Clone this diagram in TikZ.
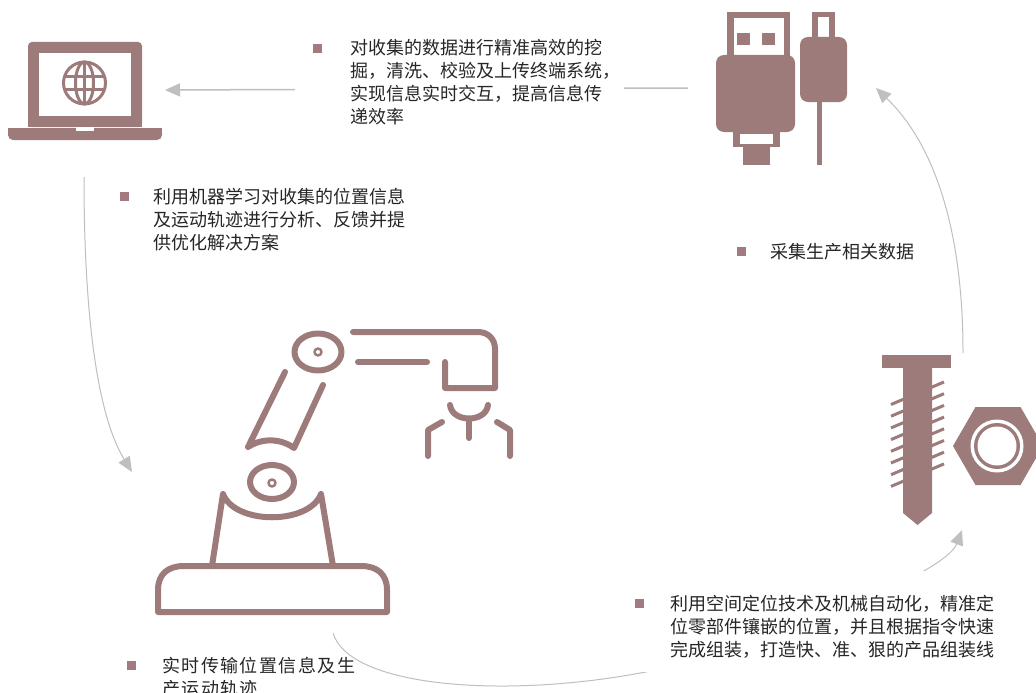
\documentclass[tikz,border=0pt]{standalone}
\usepackage{fontspec}
\setmainfont{Noto Sans CJK SC}
\newfontfamily\widecjk[LetterSpace=8]{Noto Sans CJK SC}
\usetikzlibrary{arrows.meta}

\definecolor{iconc}{RGB}{157,123,123}
\definecolor{bulc}{RGB}{163,122,128}
\definecolor{linkc}{RGB}{191,191,191}
\definecolor{txtc}{RGB}{38,38,38}

% bulleted text block: #1 lead-in space, #2 bullet column width, #3 lines
\newcommand{\bitem}[3]{\hspace*{#1}\makebox[#2][l]{\textcolor{bulc}{\rule[2.3pt]{9pt}{9pt}}}\begin{tabular}[t]{@{}l@{}}#3\end{tabular}}

\tikzset{
  icon/.style={draw=iconc, line width=6pt, line cap=round, line join=round},
  link/.style={draw=linkc, line width=1pt, -{Triangle[length=15pt,width=13pt]}},
  note/.style={anchor=base west, inner xsep=4pt, inner ysep=4pt, text=txtc,
               font=\fontsize{18}{23}\selectfont},
  cover/.style={fill=white}
}

\begin{document}
\begin{tikzpicture}[x=1pt, y=-1pt]
\useasboundingbox (0,0) rectangle (1036,693);
\fill[white] (0,0) rectangle (1036,693);

% ---------- laptop ----------
\fill[iconc, rounded corners=4pt] (28,42) rectangle (142,127);
\fill[iconc] (28,100) rectangle (142,127);
\fill[white] (39,53) rectangle (131,116);
\fill[iconc, rounded corners=5pt] (8,128) rectangle (162,140);
\fill[iconc] (8,128) rectangle (162,133);
\fill[white] (76,127) rectangle (94,131);
\begin{scope}[draw=iconc, line width=3pt]
  \draw (84.5,83) circle[radius=21pt];
  \draw (84.5,83) ellipse[x radius=9pt, y radius=21pt];
  \draw (84.5,62) -- (84.5,104);
  \draw (64.5,76.5) -- (104.5,76.5);
  \draw (64.5,89.5) -- (104.5,89.5);
\end{scope}

% ---------- USB plug and cable ----------
\fill[iconc] (727,12) rectangle (790,58);
\fill[white] (733.5,18.5) rectangle (783.5,58);
\fill[iconc] (737,33) rectangle (750,45);
\fill[iconc] (762,33) rectangle (775,45);
\fill[iconc, rounded corners=8pt] (716,55) rectangle (795,132);
\fill[iconc] (733,130) rectangle (780,147);
\fill[white] (740,133.5) rectangle (773,143.5);
\fill[iconc] (743,146) rectangle (770,165);
\fill[iconc] (812,12) rectangle (835,40);
\fill[white] (818,17.5) rectangle (829,40);
\fill[iconc, rounded corners=8pt] (800,37) rectangle (847,102);
\fill[iconc] (817,100) rectangle (822,165);

% ---------- screw ----------
\fill[iconc] (882,355) rectangle (951,368);
\fill[iconc] (903,367) -- (932,367) -- (932,513) -- (917.5,525) -- (903,513) -- cycle;
\foreach \y in {400,411.7,423.4,435.1,446.8,458.5,470.2,481.9}
  \draw[iconc, line width=3pt] (891,\y+4.5) -- (904,\y-1);
\foreach \y in {383,394.7,406.4,418.1,429.8,441.5,453.2,464.9}
  \draw[iconc, line width=3pt] (931,\y+4.5) -- (944,\y-1);

% ---------- nut ----------
\fill[iconc] (1043,446) -- (1020.5,407) -- (975.5,407) -- (953,446) -- (975.5,485) -- (1020.5,485) -- cycle;
\fill[white] (997,446) circle[radius=26.5pt];
\fill[iconc] (997,446) circle[radius=23pt];
\fill[white] (997,446) circle[radius=19.5pt];

% ---------- robot arm ----------
\begin{scope}[icon]
  % base plate
  \draw (158,612) -- (158,590) .. controls (158,574) and (168,566) .. (184,566)
        -- (361,566) .. controls (377,566) and (387,574) .. (387,590) -- (387,612) -- cycle;
  % pedestal with cradle
  \draw (212,566) -- (223,494) .. controls (235,525) and (309,525) .. (321,494) -- (333,566);
  % lower joint
  \draw (272,482) ellipse[x radius=22pt, y radius=17pt];
  \draw[line width=2.5pt] (272,483) circle[radius=3.5pt];
  % upper arm
  \draw (285,372) -- (248,447) .. controls (262,438) and (280,438) .. (294,448) -- (323,385);
  % upper joint
  \draw (318,352) ellipse[x radius=23.5pt, y radius=18.5pt];
  \draw[line width=2.5pt] (318,352) circle[radius=3.5pt];
  % forearm
  \draw (353,332) -- (478,332) .. controls (488,332) and (495,339) .. (495,349)
        -- (495,388) -- (445,388) -- (445,362);
  \draw (358,362) -- (427,362);
  % gripper
  \draw (450,405) .. controls (452,423) and (486,423) .. (488,405);
  \draw (469,420) -- (469,438);
  \draw (442,422) -- (428,430) -- (428,456);
  \draw (497,422) -- (510,430) -- (510,456);
\end{scope}

% ---------- connector end points ----------
\coordinate (usbL) at (688,88);
\coordinate (laptopR) at (165,90);
\coordinate (laptopB) at (84,177);
\coordinate (robotL) at (132,472);
\coordinate (robotB) at (333,633);
\coordinate (nutB) at (962,530);
\coordinate (screwT) at (963,353);
\coordinate (usbB) at (876,88);

% ---------- connectors ----------
\draw[link, line width=1.5pt] (usbL) -- (laptopR);
\draw[link] (laptopB) .. controls (84,330) and (100,420) .. (robotL);
\draw[link] (robotB) .. controls (350,690) and (520,700) .. (665,668)
                     .. controls (760,647) and (945,575) .. (nutB);
\draw[link] (screwT) .. controls (963,220) and (930,140) .. (usbB);

% ---------- notes ----------
\node[note, cover] (t1) at (295,55) {\bitem{14pt}{37pt}{对收集的数据进行精准高效的挖\\掘，清洗、校验及上传终端系统，\\实现信息实时交互，提高信息传\\递效率}};
\node[note] (t2) at (116,203) {\bitem{0pt}{33pt}{利用机器学习对收集的位置信息\\及运动轨迹进行分析、反馈并提\\供优化解决方案}};
\node[note] (t3) at (733,258) {\bitem{0pt}{33pt}{采集生产相关数据}};
\node[note, cover, inner ysep=9pt] (t4) at (627,610) {\rule{0pt}{30pt}\bitem{4pt}{35pt}{利用空间定位技术及机械自动化，精准定\\位零部件镶嵌的位置，并且根据指令快速\\完成组装，打造快、准、狠的产品组装线}};
\node[note] (t5) at (123,672) {\widecjk\bitem{0pt}{35pt}{实时传输位置信息及生\\产运动轨迹}};

\end{tikzpicture}
\end{document}
